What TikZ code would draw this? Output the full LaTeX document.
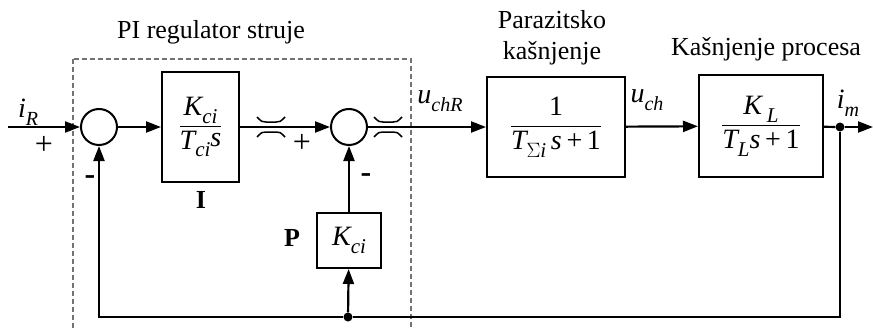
\documentclass[tikz,border=0pt]{standalone}
\usepackage{fontspec}
\setmainfont{Liberation Serif}
\usetikzlibrary{arrows.meta}
\newcommand\sbs[1]{\raisebox{-0.28em}{\fontsize{20}{20}\selectfont\itshape #1}}
\newcommand\fsb[1]{\raisebox{-0.28em}{\fontsize{21}{21}\selectfont\itshape #1}}
\newcommand\mfrac[2]{{\fontsize{28}{32}\selectfont$\displaystyle\frac{\mbox{#1}}{\mbox{#2}}$}}
\begin{document}
\begin{tikzpicture}[x=1pt,y=-1pt,font=\fontsize{26}{31}\selectfont,
  sumnode/.style={circle,draw,minimum size=36pt,inner sep=0pt,line width=2pt},
  blk/.style={draw,rectangle,inner sep=0pt,line width=2pt},
  sig/.style={line width=2.2pt,-{Triangle[length=15pt,width=11pt]}},
  wire/.style={line width=2.2pt},
  lbl/.style={inner sep=0pt},
  sgn/.style={inner sep=0pt,font=\fontsize{32}{32}\selectfont},
  dotnode/.style={circle,fill,minimum size=9pt,inner sep=0pt},
  crossmk/.style={line width=1.5pt},
  frame/.style={draw=black!55,dash pattern=on 5pt off 3pt,line width=1.8pt},
  brk/.pic={
    \draw[crossmk] (-14,-10) .. controls (-9,-5) .. (-5,-5) -- (5,-5) .. controls (9,-5) .. (14,-10);
    \draw[crossmk] (-14,10) .. controls (-9,5) .. (-5,5) -- (5,5) .. controls (9,5) .. (14,10);
  }]
\useasboundingbox (0,0) rectangle (873,329);
% frame
\draw[frame] (73,59) rectangle (411,340);
% titles
\node[lbl] (t1) at (211,32) {PI regulator struje};
\node[lbl,align=center] (t2) at (552,38) {Parazitsko\\kašnjenje};
\node[lbl] (t3) at (766,49) {Kašnjenje procesa};
% nodes
\coordinate (in) at (8,127);
\node[sumnode] (s1) at (99,127) {};
\node[blk,minimum width=77pt,minimum height=109pt] (I) at (200.5,127) {\mfrac{\itshape K\fsb{ci}}{\itshape T\fsb{ci}\raisebox{0.1em}{s}}};
\node[sumnode] (s2) at (349,127) {};
\node[blk,minimum width=64pt,minimum height=55pt] (P) at (349,240.5) {\fontsize{28}{28}\selectfont\itshape K\fsb{ci}};
\node[blk,minimum width=138pt,minimum height=100pt] (B2) at (556,127) {\mfrac{1}{\itshape T\fsb{$\Sigma$i}\,s\,{\upshape +}\,{\upshape 1}}};
\node[blk,minimum width=124pt,minimum height=101pt] (B3) at (761,126) {\mfrac{\itshape K\,\fsb{L}}{\itshape T\fsb{L}s\,{\upshape +}\,{\upshape 1}}};
\node[dotnode] (od) at (840,127) {};
\node[dotnode] (fd) at (348,317) {};
\coordinate (out) at (873,127);
\coordinate (fc) at (840,317);
\coordinate (fl) at (99,317);
% connectors
\draw[sig] (in) -- (s1);
\draw[sig] (s1) -- (I);
\draw[sig] (I) -- (s2);
\draw[sig] (s2) -- (B2);
\draw[sig] (B2) -- (B3);
\draw[wire] (B3) -- (od);
\draw[sig] (od) -- (out);
\draw[wire] (od) -- (fc) -- (fd);
\draw[sig] (fd) -- (fl) -- (s1);
\draw[sig] (fd) -- (P);
\draw[sig] (P) -- (s2);
% break marks
\pic at (271,127) {brk};
\pic at (388,127) {brk};
% labels
\node[lbl] (liR) at (28,112) {\fontsize{28}{28}\selectfont\itshape i\sbs{R}};
\node[sgn] (pl1) at (44,145) {+};
\node[sgn] (mi1) at (90,180) {\bfseries -};
\node[sgn] (pl2) at (302,143) {+};
\node[sgn] (mi2) at (366,178) {\bfseries -};
\node[lbl] (lI) at (201,200) {\bfseries I};
\node[lbl] (lP) at (292,238) {\bfseries P};
\node[lbl] (luchR) at (440,101) {\fontsize{28}{28}\selectfont\itshape u\sbs{chR}};
\node[lbl] (luch) at (647,100) {\fontsize{28}{28}\selectfont\itshape u\sbs{ch}};
\node[lbl] (lim) at (848,103) {\fontsize{28}{28}\selectfont\itshape i\sbs{m}};
\end{tikzpicture}
\end{document}
